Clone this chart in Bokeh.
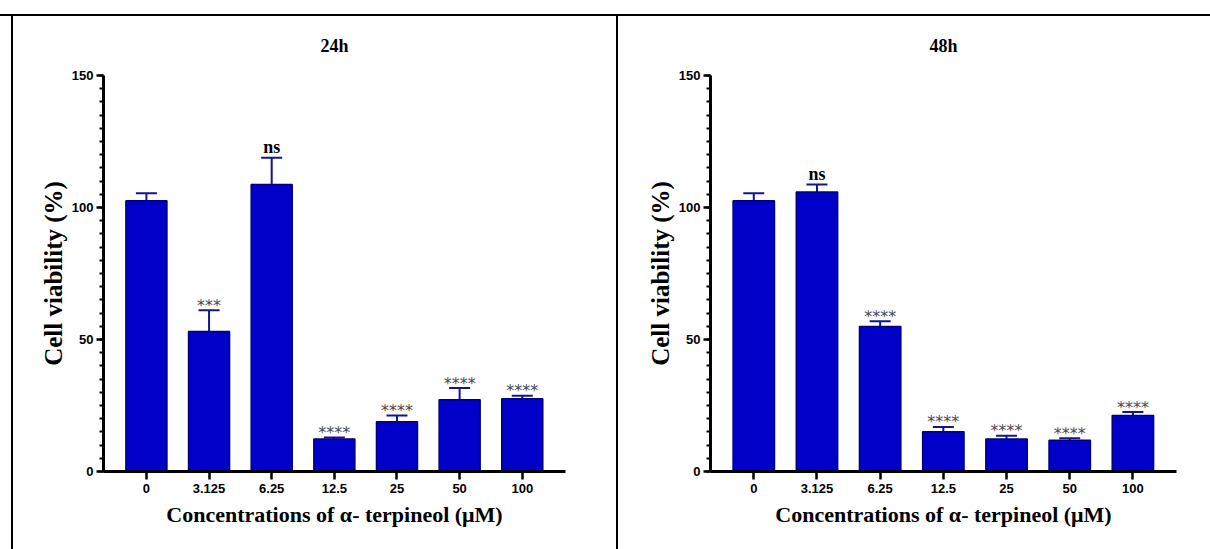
from bokeh.plotting import figure
from bokeh.layouts import row
from bokeh.models import (ColumnDataSource, Range1d, FixedTicker, Whisker, TeeHead)
from bokeh.core.properties import value
from bokeh.embed import file_html
from bokeh.resources import INLINE

conc = ["0", "3.125", "6.25", "12.5", "25", "50", "100"]
v24 = [102.6, 53.0, 108.7, 12.3, 18.8, 27.2, 27.6]
e24 = [2.8, 8.1, 10.1, 0.6, 2.4, 4.4, 1.1]
s24 = ["", "***", "ns", "****", "****", "****", "****"]
v48 = [102.6, 105.9, 54.9, 15.1, 12.3, 11.8, 21.2]
e48 = [2.8, 2.8, 2.0, 1.8, 1.2, 0.8, 1.3]
s48 = ["", "ns", "****", "****", "****", "****", "****"]
titles = ["24h", "48h"]
y_ticks = [0, 50, 100, 150]
y_minor = list(range(0, 151, 5))

BAR_FILL = "#0000C8"
BAR_LINE = "#000080"
ERR_COL = "#14148F"
H = 549


def panel(title, vals, errs, sigs, width, mbl, mbr, left_line):
    idx = list(range(len(conc)))
    src = ColumnDataSource(dict(x=idx, top=vals,
                                upper=[v + e for v, e in zip(vals, errs)]))
    bg = ("linear-gradient(#000, #000) %dpx 14px / 2px calc(100%% - 14px) no-repeat, "
          "linear-gradient(#000, #000) 0px 14px / 100%% 2px no-repeat") % left_line
    p = figure(width=width, height=H, output_backend="svg", toolbar_location=None,
               tools="", x_range=Range1d(-0.685, 6.69), y_range=Range1d(0, 150),
               min_border_left=mbl, min_border_right=mbr,
               min_border_top=75, min_border_bottom=H - 471, title=title,
               styles={"background": bg})
    p.title.align = "center"
    p.title.text_font = "Liberation Serif"
    p.title.text_font_style = "bold"
    p.title.text_font_size = "18px"
    p.title.text_color = "black"
    p.title.standoff = 40
    p.grid.visible = False
    p.outline_line_color = None
    p.background_fill_color = "white"
    p.border_fill_color = None

    p.vbar(x="x", top="top", bottom=0, width=0.655, source=src,
           fill_color=BAR_FILL, line_color=BAR_LINE, line_width=1.5)
    p.add_layout(Whisker(source=src, base="x", upper="upper", lower="top",
                         dimension="height", line_color=ERR_COL, line_width=2,
                         upper_head=TeeHead(size=21, line_color=ERR_COL, line_width=2),
                         lower_head=None))

    ns_x = [i for i, s in enumerate(sigs) if s == "ns"]
    ns_y = [vals[i] + errs[i] for i in ns_x]
    st_x = [i for i, s in enumerate(sigs) if s.startswith("*")]
    st_y = [vals[i] + errs[i] for i in st_x]
    st_t = [sigs[i] for i in st_x]
    p.text(x=ns_x, y=ns_y, text=["ns"] * len(ns_x), text_font=value("Liberation Serif"),
           text_font_style="bold", text_font_size="18px", text_align="center",
           text_baseline="alphabetic", y_offset=-11, text_color="black")
    p.text(x=st_x, y=st_y, text=st_t, text_font=value("DejaVu Sans"),
           text_font_size="16px", text_align="center", text_baseline="alphabetic",
           y_offset=-5, text_color="#4a4a4a")

    xa = p.xaxis[0]
    ya = p.yaxis[0]
    xa.ticker = FixedTicker(ticks=idx)
    xa.major_label_overrides = {i: c for i, c in enumerate(conc)}
    xa.axis_label = "Concentrations of \u03b1- terpineol (\u03bcM)"
    ya.ticker = FixedTicker(ticks=y_ticks, minor_ticks=y_minor)
    ya.axis_label = "Cell viability (%)"
    for ax in (xa, ya):
        ax.axis_line_width = 3
        ax.axis_line_color = "black"
        ax.major_tick_line_color = "black"
        ax.major_tick_line_width = 2.5
        ax.major_tick_in = 0
        ax.major_label_text_font = "Liberation Sans"
        ax.major_label_text_font_style = "bold"
        ax.major_label_text_font_size = "13px"
        ax.major_label_text_color = "black"
        ax.axis_label_text_font = "Liberation Serif"
        ax.axis_label_text_font_style = "bold"
        ax.axis_label_text_color = "black"
    xa.major_tick_out = 8
    xa.minor_tick_line_color = None
    xa.major_label_standoff = 4
    xa.axis_label_standoff = 6
    xa.axis_label_text_font_size = "22px"
    ya.major_tick_out = 7
    ya.minor_tick_out = 4
    ya.minor_tick_in = 0
    ya.minor_tick_line_width = 2
    ya.minor_tick_line_color = "black"
    ya.major_label_standoff = 3
    ya.axis_label_standoff = 2
    ya.axis_label_text_font_size = "25px"
    return p


p1 = panel(titles[0], v24, e24, s24, 616, 103, 51, 11)
p2 = panel(titles[1], v48, e48, s48, 594, 94, 34, 0)
layout = row(p1, p2)
open("out.html", "w").write(file_html(layout, INLINE))
